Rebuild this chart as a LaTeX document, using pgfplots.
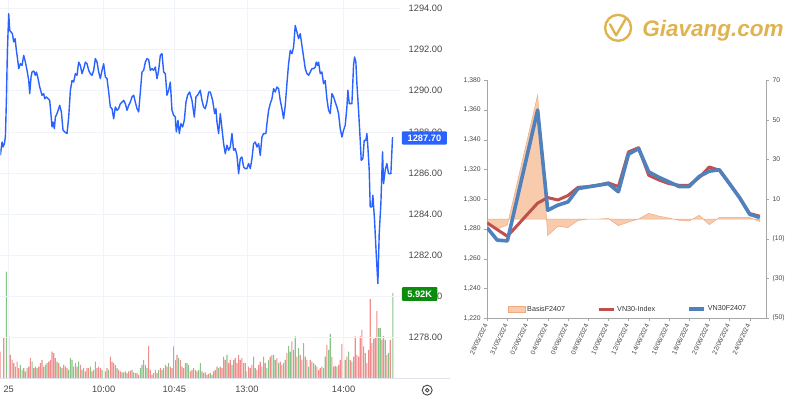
\documentclass[border=0pt]{standalone}
\usepackage{fontspec}
\setmainfont{Liberation Sans}
\usepackage{pgfplots}
\pgfplotsset{compat=1.18}
\definecolor{tvblue}{RGB}{41,98,255}
\definecolor{tvgreen}{RGB}{12,140,12}
\definecolor{volred}{RGB}{240,140,140}
\definecolor{volgreen}{RGB}{135,195,135}
\definecolor{gridc}{RGB}{240,243,250}
\definecolor{labc}{RGB}{70,70,70}
\definecolor{peach}{RGB}{248,203,173}
\definecolor{peachdark}{RGB}{240,170,125}
\definecolor{xred}{RGB}{192,80,77}
\definecolor{xblue}{RGB}{79,129,189}
\definecolor{axc}{RGB}{166,166,166}
\definecolor{gold}{RGB}{223,180,80}

\pgfplotstableread{
x v
0 1.86
10 2.79
25 2.95
30 1.63
35 1.28
40 1.05
50 1.16
55 0.70
70 0.70
75 0.47
85 0.81
90 1.40
100 0.70
105 0.81
115 0.81
120 1.05
125 1.28
135 0.93
145 1.16
150 1.28
155 1.86
160 1.74
165 1.40
175 1.05
185 0.70
190 0.93
200 0.70
220 0.81
230 0.81
240 0.93
250 0.70
255 0.47
260 0.70
265 0.70
275 0.47
290 0.70
295 0.81
300 0.70
315 0.47
320 0.70
330 1.51
335 1.16
340 1.05
345 0.93
355 0.58
360 0.47
370 0.40
375 0.47
385 0.47
390 0.53
400 0.40
410 0.35
415 0.23
435 0.93
445 2.26
450 0.58
455 0.23
465 0.58
470 0.35
480 0.70
490 0.70
500 0.81
510 0.81
515 0.70
520 2.21
525 1.28
530 1.63
540 1.28
545 0.81
550 0.70
555 1.05
570 0.47
575 0.58
585 0.58
590 0.47
605 0.47
610 0.35
620 0.23
625 0.30
640 0.47
645 0.58
650 0.81
660 0.81
665 0.70
670 1.51
675 1.28
685 1.05
690 1.28
700 1.28
705 1.40
710 1.05
715 1.63
720 1.28
725 1.40
735 1.05
745 0.81
750 0.70
755 0.93
770 0.58
775 0.93
780 1.16
790 1.51
795 1.05
810 1.51
830 1.40
840 1.16
845 0.93
850 1.05
860 1.74
875 2.56
880 1.98
890 1.51
900 1.63
905 1.28
910 2.44
920 1.28
930 1.28
940 1.05
950 0.81
955 0.58
960 0.70
970 0.70
980 2.33
995 1.51
1000 0.81
1005 0.86
1015 0.93
1020 1.28
1025 2.40
1030 2.09
1040 1.51
1050 1.28
1060 1.51
1065 2.91
1070 1.63
1075 1.51
1080 2.91
1085 3.37
1095 1.74
1100 1.05
1105 1.98
1110 5.51
1115 2.44
1120 2.72
1125 2.86
1130 4.70
1145 2.67
1150 2.95
1160 1.63
1170 2.67
}\volred

\pgfplotstableread{
x v
18 7.44
45 0.81
60 0.93
65 0.58
80 0.70
95 1.16
110 0.70
130 0.81
140 1.05
170 1.16
180 0.81
195 0.81
205 0.58
210 1.40
215 1.28
225 1.05
235 1.16
245 0.58
270 0.81
280 0.58
285 1.16
305 0.58
310 0.93
325 0.58
350 0.70
365 0.40
380 0.35
395 0.58
405 0.35
420 0.70
425 0.93
430 1.28
440 0.70
460 0.35
475 0.58
485 0.58
495 0.93
505 1.05
535 1.40
560 1.05
565 0.93
580 0.70
595 0.58
600 1.05
615 0.40
630 0.35
635 0.23
655 0.70
680 1.63
695 0.93
730 1.05
740 0.47
760 1.51
765 0.70
785 0.81
800 0.70
805 1.28
815 1.63
820 1.63
825 1.28
835 1.05
855 1.28
865 2.26
870 1.86
885 2.91
895 2.09
915 1.51
925 0.81
935 1.16
945 0.93
965 0.81
975 1.51
985 1.98
990 3.09
1010 0.81
1035 1.28
1045 1.86
1055 1.16
1090 2.21
1135 3.49
1140 3.49
1155 2.67
1165 1.74
1178 5.93
}\volgreen

\pgfplotstableread{
x p
0 1286.86
5 1287.51
8 1287.27
12 1287.43
15 1287.75
18 1289.53
21 1291.96
25 1293.74
28 1292.93
32 1292.85
36 1292.77
40 1292.37
44 1292.53
48 1291.96
52 1291.48
55 1291.07
60 1291.31
65 1291.23
70 1291.72
75 1291.39
80 1290.99
85 1290.50
88 1289.86
92 1290.67
95 1290.91
100 1290.96
105 1290.75
108 1290.91
112 1290.67
118 1290.18
125 1289.78
130 1289.86
133 1289.61
138 1289.70
143 1289.61
148 1289.53
152 1288.81
155 1288.24
158 1288.48
162 1288.16
165 1288.72
170 1288.89
178 1289.29
183 1288.97
188 1288.08
193 1288.00
200 1287.92
205 1288.72
210 1290.02
215 1290.50
220 1290.42
225 1290.83
230 1290.75
235 1291.39
240 1291.23
245 1290.83
250 1291.07
255 1291.39
260 1291.31
265 1290.99
270 1290.83
275 1290.75
280 1290.99
285 1291.56
290 1291.39
295 1290.91
300 1290.59
305 1290.99
310 1291.31
315 1290.67
320 1290.59
325 1289.94
330 1289.21
335 1289.13
340 1288.64
345 1289.21
350 1289.05
355 1289.13
360 1289.37
365 1289.45
370 1289.53
375 1289.37
380 1289.05
385 1289.29
390 1289.45
395 1289.70
400 1289.78
405 1289.45
410 1289.13
415 1288.97
420 1289.94
425 1290.91
430 1290.99
435 1291.39
440 1291.56
445 1291.51
450 1290.99
455 1291.07
460 1290.99
465 1291.15
470 1290.59
475 1290.99
480 1291.72
485 1291.80
490 1290.91
495 1290.83
500 1289.78
505 1290.02
510 1290.42
515 1289.05
520 1288.81
525 1288.72
528 1288.00
533 1288.56
537 1287.92
542 1288.40
547 1288.24
552 1288.56
557 1289.45
562 1289.78
568 1289.94
575 1289.53
582 1288.72
587 1289.70
593 1289.81
600 1290.02
605 1289.53
610 1289.21
615 1289.13
620 1289.45
625 1289.94
630 1289.94
637 1289.53
643 1288.89
647 1289.13
650 1288.48
655 1287.92
660 1288.89
665 1288.16
670 1287.43
675 1286.94
680 1287.35
685 1287.11
690 1287.27
695 1287.92
700 1287.11
705 1287.19
710 1286.86
715 1285.97
720 1286.70
725 1286.78
730 1286.30
735 1286.22
740 1286.22
745 1286.46
750 1286.22
755 1286.70
760 1287.43
765 1287.51
770 1287.27
775 1287.43
780 1286.86
785 1287.75
790 1287.92
797 1287.92
800 1288.40
805 1289.05
810 1289.37
815 1289.61
820 1290.10
825 1289.94
830 1290.18
835 1290.10
840 1289.53
845 1289.13
850 1288.64
855 1289.29
860 1290.34
865 1291.31
870 1291.96
875 1291.80
880 1292.12
885 1293.17
890 1292.85
895 1292.53
900 1292.77
905 1292.20
910 1291.64
915 1291.07
920 1290.83
925 1290.75
930 1290.91
935 1291.07
940 1291.07
945 1291.15
948 1291.39
952 1291.23
955 1291.39
960 1290.83
965 1290.91
970 1290.34
975 1290.50
980 1289.61
985 1289.05
990 1288.89
995 1289.86
1000 1289.70
1005 1289.45
1010 1289.21
1015 1288.89
1020 1288.16
1025 1287.75
1030 1288.08
1035 1288.32
1040 1289.21
1043 1290.02
1047 1289.37
1050 1289.37
1055 1289.37
1060 1291.23
1063 1291.64
1067 1291.39
1070 1290.34
1075 1289.05
1080 1287.59
1083 1286.62
1088 1286.70
1092 1287.59
1097 1287.59
1100 1287.92
1103 1287.27
1107 1286.14
1110 1284.36
1115 1284.36
1118 1284.92
1123 1283.71
1128 1282.09
1133 1280.63
1137 1283.06
1142 1284.52
1147 1287.03
1150 1285.49
1155 1286.14
1160 1286.46
1165 1285.97
1172 1285.97
1177 1287.75
}\price

\pgfplotstableread{
i idx fut basis
0 1284.1 1280.8 -3.0
1 1279.6 1272.5 -5.0
2 1275.1 1272.0 -3.0
3 1282.5 1301.3 18.8
4 1290.0 1330.7 40.7
5 1297.4 1360.0 62.5
6 1301.1 1292.6 -8.3
7 1299.5 1296.0 -3.6
8 1302.5 1298.2 -4.3
9 1308.0 1307.2 -0.7
10 1308.5 1308.3 0.0
11 1309.5 1309.4 0.0
12 1311.0 1310.5 0.3
13 1308.5 1305.0 -3.3
14 1331.8 1330.3 -1.5
15 1334.7 1334.1 0.0
16 1316.1 1318.4 2.9
17 1313.0 1314.8 1.5
18 1310.5 1311.7 0.5
19 1309.4 1308.6 -0.6
20 1309.4 1308.6 -1.0
21 1314.6 1315.3 1.9
22 1321.7 1318.9 -2.8
23 1319.5 1319.8 0.8
24 1310.5 1310.5 0.8
25 1301.0 1301.1 0.8
26 1290.4 1289.9 0.8
27 1288.6 1287.7 -1.2
}\basis

\begin{document}
\begin{tikzpicture}
\path (0pt,0pt) rectangle (800pt,400pt);

% ---------------- left: intraday chart ----------------
\begin{axis}[at={(0pt,22pt)}, anchor=south west, scale only axis,
  width=400pt, height=378pt, xmin=0, xmax=1200, ymin=0, ymax=26.37,
  hide axis]
\addplot[ybar, bar width=1.1pt, bar shift=0pt, fill=volred, draw=none] table[x=x,y=v] {\volred};
\addplot[ybar, bar width=1.1pt, bar shift=0pt, fill=volgreen, draw=none] table[x=x,y=v] {\volgreen};
\end{axis}

\begin{axis}[at={(0pt,22pt)}, anchor=south west, scale only axis,
  width=400pt, height=378pt, xmin=0, xmax=1200, ymin=1276.04, ymax=1294.39,
  axis line style={draw=none}, major tick length=0pt,
  xtick={25,310,522,740,1030}, xticklabels={25,10:00,10:45,13:00,14:00},
  ytick={1278,1280,...,1294}, yticklabel pos=right,
  grid=major, major grid style={color=gridc, line width=0.7pt},
  tick label style={font=\fontsize{9.3}{10}\selectfont, text=labc},
  y tick label style={xshift=5pt},
  x tick label style={yshift=-4pt},
  /pgf/number format/.cd, fixed, fixed zerofill, precision=2, 1000 sep={}, assume math mode=true]
\addplot[tvblue, line width=1.4pt, line join=round, mark=none] table[x=x,y=p] {\price};
\end{axis}
\draw[color={rgb,255:red,224;green,227;blue,235}, line width=0.8pt] (0pt,22pt) -- (450pt,22pt);
\fill[tvblue, rounded corners=1pt] (401.7pt,255.7pt) rectangle (446.7pt,269pt);
\node[text=white, font=\fontsize{9.3}{10}\selectfont\bfseries] at (424.2pt,262.4pt) {1287.70};
\fill[tvgreen, rounded corners=1pt] (401.7pt,99.3pt) rectangle (437.3pt,113pt);
\node[text=white, font=\fontsize{9.3}{10}\selectfont\bfseries] at (419.5pt,106.2pt) {5.92K};
\draw[labc, line width=0.9pt] (427pt,10pt) circle (5pt);
\draw[labc, line width=0.9pt] (427pt,10pt) circle (1.8pt);

% ---------------- right: basis chart ----------------
\begin{axis}[at={(487pt,82pt)}, anchor=south west, scale only axis,
  width=279pt, height=238pt, xmin=0, xmax=27.62, ymin=-50, ymax=70,
  axis x line=none, axis y line*=right, axis line style={axc},
  ytick={-50,-30,...,70}, yticklabels={(50),(30),(10),10,30,50,70},
  tick align=outside, major tick length=3pt, tick style={axc},
  y tick label style={font=\fontsize{6.8}{7}\selectfont, text=labc}]
\addplot[fill=peach, draw=peachdark, line width=0.5pt] table[x=i,y=basis] {\basis} \closedcycle;
\end{axis}

\begin{axis}[at={(487pt,82pt)}, anchor=south west, scale only axis,
  width=279pt, height=238pt, xmin=0, xmax=27.62, ymin=1220, ymax=1380,
  axis x line*=bottom, axis y line*=left, axis line style={axc},
  tick align=outside, major tick length=3pt, tick style={axc},
  ytick={1220,1240,...,1380},
  xtick={0,2,...,26},
  xticklabels={28/05/2024,31/05/2024,02/06/2024,04/06/2024,06/06/2024,08/06/2024,10/06/2024,12/06/2024,14/06/2024,16/06/2024,18/06/2024,20/06/2024,22/06/2024,24/06/2024},
  x tick label style={rotate=65, anchor=east, font=\fontsize{6.6}{7}\selectfont, text=labc},
  y tick label style={font=\fontsize{6.8}{7}\selectfont, text=labc},
  /pgf/number format/1000 sep={,}, /pgf/number format/assume math mode=true,
  legend columns=3,
  legend style={draw=none, fill=none, at={(0.505,0.038)}, anchor=center,
    font=\fontsize{7.2}{8}\selectfont, text={rgb,255:red,50;green,50;blue,50},
    /tikz/every even column/.append style={column sep=30pt}},
  legend image code/.code={\draw[#1] (0pt,0pt) -- (15pt,0pt);}]
\addlegendimage{area legend, fill=peach, draw=peachdark}
\addlegendentry{BasisF2407}
\addplot[xred, line width=3pt, line join=round, mark=none] table[x=i,y=idx] {\basis};
\addlegendentry{VN30-Index}
\addplot[xblue, line width=3.6pt, line join=round, mark=none] table[x=i,y=fut] {\basis};
\addlegendentry{VN30F2407}
\end{axis}

% ---------------- logo ----------------
\draw[gold, line width=2.4pt] (618pt,372.5pt) circle (13pt);
\draw[gold, line width=2.4pt, line cap=round, line join=round] (610pt,376pt) -- (616pt,365pt) -- (626pt,382pt);
\node[anchor=base west, inner sep=0pt, text=gold, font=\fontsize{22.5}{24}\selectfont\bfseries\itshape] at (642pt,364pt) {Giavang.com};
\end{tikzpicture}
\end{document}
